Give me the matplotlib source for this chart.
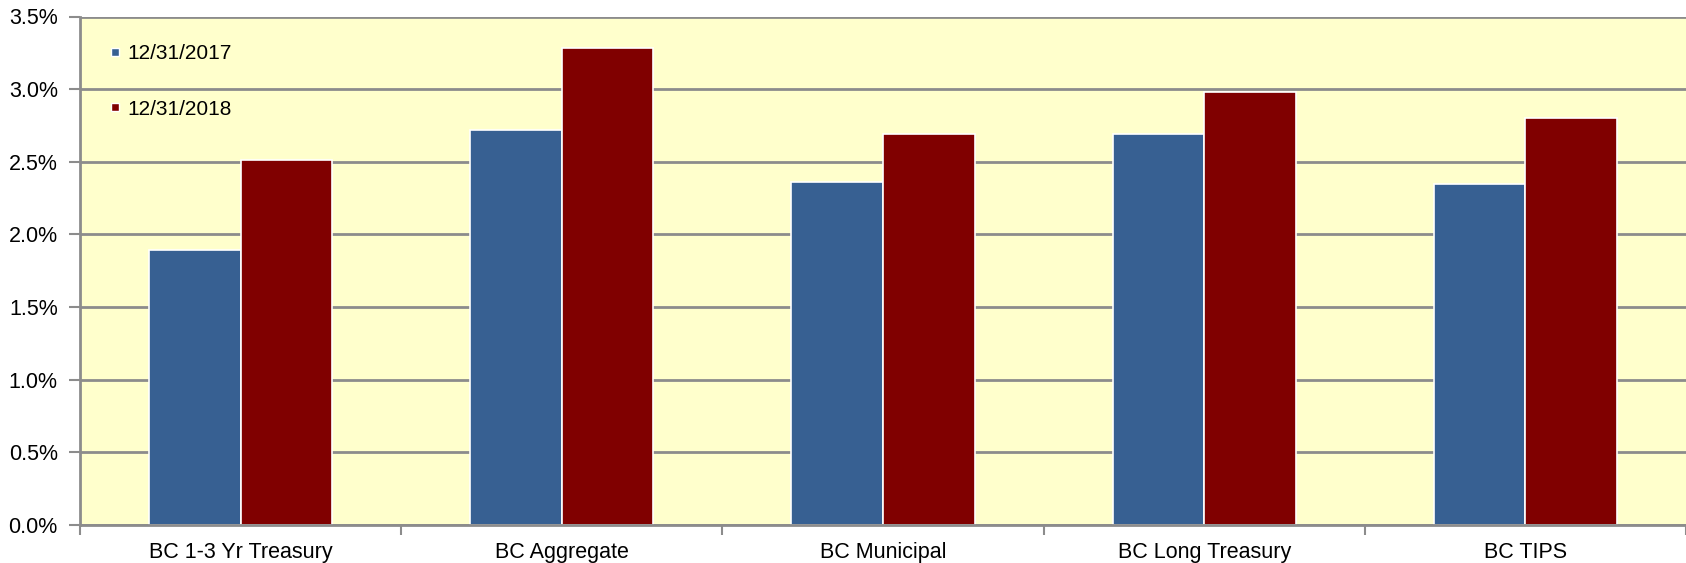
import matplotlib.pyplot as plt
from matplotlib.lines import Line2D
from matplotlib.ticker import FuncFormatter, FixedLocator
import numpy as np

plt.rcParams['font.family'] = ['Liberation Sans', 'DejaVu Sans']

categories = ["BC 1-3 Yr Treasury", "BC Aggregate", "BC Municipal", "BC Long Treasury", "BC TIPS"]
yield_2017 = [1.89, 2.72, 2.36, 2.69, 2.35]
yield_2018 = [2.51, 3.28, 2.69, 2.98, 2.80]
series_labels = ["12/31/2017", "12/31/2018"]

blue = "#376092"
red = "#800000"
grid_col = "#8c8c8c"

fig = plt.figure(figsize=(16.86, 5.63), dpi=100)
ax = fig.add_axes([80 / 1686, 38 / 563, 1 - 80 / 1686, 508.5 / 563])
ax.set_facecolor("#FFFFCC")

x = np.arange(len(categories))
w = 0.285
ax.bar(x - w / 2, yield_2017, width=w, color=blue, edgecolor="white", linewidth=1.2, zorder=3)
ax.bar(x + w / 2, yield_2018, width=w, color=red, edgecolor="white", linewidth=1.2, zorder=3)

ax.set_xlim(-0.5, len(categories) - 0.5)
ax.set_ylim(0, 3.5)
ax.set_yticks(np.arange(0, 3.51, 0.5))
ax.yaxis.set_major_formatter(FuncFormatter(lambda v, p: f"{v:.1f}%"))
ax.grid(axis="y", color=grid_col, linewidth=2, zorder=1)

# boundary ticks and centered labels
ax.xaxis.set_major_locator(FixedLocator(np.arange(-0.5, len(categories), 1.0)))
ax.xaxis.set_minor_locator(FixedLocator(x))
ax.set_xticklabels([], minor=False)
ax.set_xticklabels(categories, minor=True)
ax.tick_params(axis="x", which="major", length=7, width=1.5, color=grid_col)
ax.tick_params(axis="x", which="minor", length=0, pad=12.5, labelsize=15.5)
ax.tick_params(axis="y", length=8, width=1.5, color=grid_col, labelsize=15.5, pad=8)

for s in ["top", "right"]:
    ax.spines[s].set_visible(False)
for s in ["left", "bottom"]:
    ax.spines[s].set_color(grid_col)
    ax.spines[s].set_linewidth(2)
ax.spines["bottom"].set_zorder(4)

handles = [Line2D([], [], marker="s", linestyle="none", markersize=6.4,
                  markerfacecolor=c, markeredgecolor="white") for c in (blue, red)]
ax.legend(handles, series_labels, loc="upper left", bbox_to_anchor=(0.005, 0.983),
          frameon=False, fontsize=15, labelspacing=1.77, handletextpad=0.18,
          handlelength=0.8)

fig.savefig("out.png", dpi=100)
